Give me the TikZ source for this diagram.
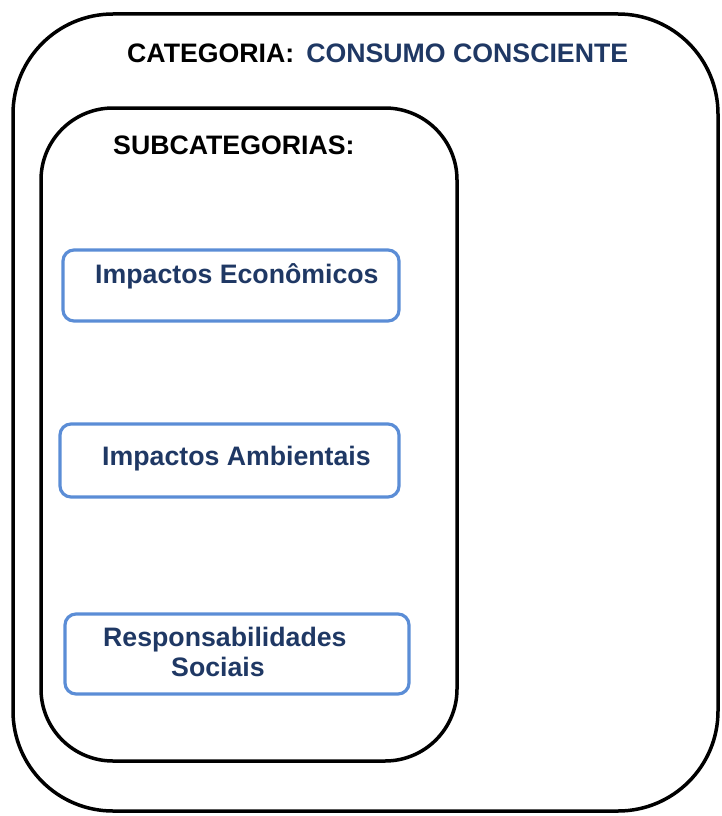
\documentclass[tikz,border=0pt]{standalone}
\usepackage{fontspec}
\setmainfont{Liberation Sans}
\definecolor{navy}{HTML}{1F3864}
\definecolor{boxblue}{HTML}{5B8DD6}
\begin{document}
\begin{tikzpicture}[x=1pt,y=-1pt,
  container/.style={draw=black, line width=3.5pt, rounded corners=#1, inner sep=0pt},
  subbox/.style={draw=boxblue, line width=3.2pt, rounded corners=11pt, inner sep=0pt},
  lbl/.style={anchor=west, inner sep=0pt, font=\bfseries\fontsize{26.7}{28}\selectfont},
  itemtxt/.style={lbl, text=navy}]
\useasboundingbox (0,0) rectangle (721,816);
\node[container=100pt, minimum width=705pt, minimum height=797pt] (outer) at (365.5,412.5) {};
\node[container=72pt, minimum width=416pt, minimum height=653pt] (inner) at (249,434.5) {};
\node[lbl] (cat) at (127,53) {CATEGORIA:\hspace{0.45em}\textcolor{navy}{CONSUMO CONSCIENTE}};
\node[lbl] (subcat) at (113,145) {SUBCATEGORIAS:};
\node[subbox, minimum width=336pt, minimum height=71pt] (b1) at (231,285.5) {};
\node[subbox, minimum width=339pt, minimum height=73pt] (b2) at (229.5,460.5) {};
\node[subbox, minimum width=344pt, minimum height=80pt] (b3) at (237,654) {};
\node[itemtxt] (t1) at (95,276) {Impactos Econômicos};
\node[itemtxt] (t2) at (102,459) {Impactos Ambientais};
\node[itemtxt] (t3a) at (103,640) {Responsabilidades};
\node[itemtxt] (t3b) at (171,667) {Sociais};
\end{tikzpicture}
\end{document}
